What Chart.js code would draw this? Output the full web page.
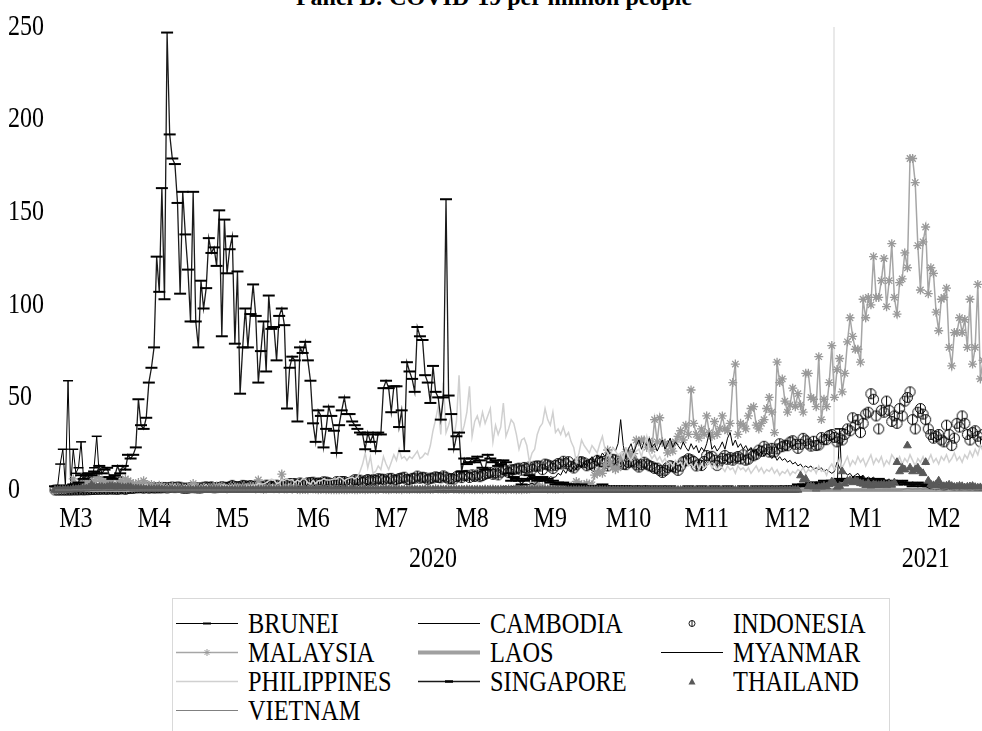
<!DOCTYPE html>
<html>
<head>
<meta charset="utf-8">
<script src="https://cdn.jsdelivr.net/npm/chart.js@4.4.1/dist/chart.umd.min.js"></script>
<style>
  html, body { margin: 0; padding: 0; background: #fff; }
  body { width: 982px; height: 731px; position: relative; overflow: hidden;
         font-family: 'Liberation Serif', 'Times New Roman', serif; color: #000; }
  #title { position: absolute; left: 0; top: -15px; width: 988px; text-align: center;
           font-weight: bold; font-size: 24px; line-height: 24px; }
  #wrap { position: absolute; left: 0; top: 0; width: 982px; height: 580px; overflow: hidden; }
  #legend { position: absolute; left: 172px; top: 598px; width: 718px; height: 150px;
            border: 1px solid #d9d9d9; box-sizing: border-box; }
  .item { position: absolute; height: 29px; display: flex; align-items: center;
          font-size: 29px; line-height: 29px; white-space: nowrap; }
  .item svg { width: 62px; height: 29px; margin-right: 10px; flex: none; }
  .item span { display: inline-block; transform: scaleX(0.84); transform-origin: left center; }
</style>
</head>
<body>
<div id="title">Panel B: COVID-19 per million people</div>
<div id="wrap"><canvas id="chart" width="991" height="580"></canvas></div>
<div id="legend"></div>
<script>
// Daily cases per million, one value per day starting 8 March 2020 (index 0)
const brunei = [
  0,2,14,22,2,59,2,22,9,12, 26,5,9,7,5,12,29,7,5,5, 2,5,2,0,7,2,2,0,2,0,
  2,0,2,2,0,0,2,0,0,0, 0,0,0,0,0,2,0,0,0,0, 0,0,0,0,0,0,0,0,0,0,
  0,0,0,0,0,0,0,0,0,0, 0,0,0,0,0,0,0,0,0,0, 0,0,0,0,0,0,0,0,0,0,
  0,0,0,0,0,0,0,0,0,0, 0,0,0,0,0,0,0,0,0,0, 0,0,0,0,0,0,0,0,0,0,
  0,0,0,0,0,0,0,0,0,0, 0,0,0,0,0,0,0,0,0,0, 0,0,0,0,0,0,0,0,0,0,
  0,0,0,0,0,0,0,0,0,0, 0,0,0,0,0,0,0,0,0,0, 0,0,0,0,0,0,0,0,0,0,
  0,0,0,0,0,0,0,0,0,0, 0,0,0,0,0,0,0,0,0,0, 0,0,0,0,0,0,0,0,0,0,
  0,0,0,0,0,0,0,0,0,0, 0,0,0,0,0,0,0,0,0,0, 0,0,0,0,0,0,0,0,0,0,
  0,0,0,0,0,0,0,0,0,0, 0,0,0,0,0,0,0,0,0,0, 0,0,0,0,0,0,0,0,0,0,
  0,0,0,0,0,0,0,0,0,0, 0,0,0,0,0,0,0,0,0,0, 0,0,0,0,0,0,0,0,0,0,
  0,33,0,0,0,0,0,0,0,0, 0,0,0,0,0,0,0,0,0,0, 0,0,0,0,0,0,0,0,0,0,
  0,0,0,0,0,0,0,0,0,0, 0,0,0,0,0,0,0,0,0,0, 0,0,0,0,0,0,0
];
const cambodia = [
  0,0,0,0,0,0.1,0,0.1,0.2,0.1, 0.1,0.3,0.5,0.2,0.9,0.4,0.4,0.3,0.3,0.4, 0.2,0.1,0.2,0,0.1,0.2,0.2,0.1,0,0.2,
  0.1,0.1,0,0,0,0,0.1,0,0,0, 0,0,0,0,0,0,0,0,0,0, 0,0,0,0,0,0,0,0,0,0,
  0,0,0,0,0,0,0,0,0,0, 0,0,0,0,0,0,0,0,0,0, 0,0,0,0,0,0,0,0,0,0,
  0,0,0,0,0,0,0,0,0,0, 0,0,0,0,0,0,0,0,0,0, 0,0,0,0,0,0,0,0,0,0,
  0,0,0,0,0,0,0,0,0,0, 0,0,0,0,0,0,0,0,0,0, 0,0,0,0,0,0,0,0,0,0,
  0,0,0,0,0,0,0,0,0,0, 0,0,0,0,0,0,0,0,0,0, 0,0,0,0,0,0,0,0,0,0,
  0,0,0,0,0,0,0,0,0,0, 0,0,0,0,0,0,0,0,0,0, 0,0,0,0,0,0,0,0,0,0,
  0,0,0,0,0,0,0,0,0,0, 0,0,0,0,0,0,0,0,0,0, 0,0,0,0,0,0,0,0,0,0,
  0,0,0,0,0,0,0,0,0,0, 0,0,0,0,0,0,0,0,0,0, 0,0,0,0,0,0.1,0,0,0.2,0.1,
  0.2,0,0.1,0,0,0,0,0,0,0, 0,0,0,0,0,0,0,0,0.1,0, 0,0,0,0,0,0,0,0,0,0,
  0,0,0.1,0,0,0,0,0,0,0, 0,0,0,0,0,0,0,0,0,0, 0,0,0,0,0,0,0,0,0,0,
  0,0,0,0,0,0,0,0,0,0, 0,0,0,0,0,0,0,0,0,1.2, 0.8,1.5,2.0,2.4,1.8,2.1,2.6
];
const indonesia = [
  0,0,0,0,0,0,0,0.1,0.1,0.1, 0.2,0.1,0.2,0.2,0.3,0.3,0.4,0.4,0.5,0.5, 0.4,0.6,0.5,0.5,0.4,0.6,0.7,0.4,0.8,0.9,
  0.9,1.2,1.2,1.3,1.0,1.5,1.0,1.3,1.1,1.2, 1.2,1.2,1.4,1.1,1.4,1.6,1.3,1.6,1.5,1.0, 1.0,1.0,1.3,1.3,1.2,1.1,1.1,1.5,1.7,1.4,
  1.7,1.2,1.3,1.4,1.8,1.5,1.4,1.8,2.5,1.8, 1.8,1.8,2.5,2.3,2.0,2.4,1.8,2.3,1.8,1.7, 1.6,2.6,2.5,2.0,1.7,2.6,2.1,2.2,2.8,3.2,
  3.5,3.4,3.5,3.0,3.8,3.4,3.2,3.9,4.0,4.2, 3.5,3.8,3.6,4.4,4.3,3.9,3.4,3.3,4.5,4.5, 4.6,4.6,3.9,3.8,4.7,5.6,5.4,5.3,4.1,5.0,
  5.7,5.1,5.6,5.2,6.1,5.9,5.8,4.5,6.1,6.3, 5.4,5.4,6.2,6.5,6.9,5.7,5.5,6.3,6.4,7.5, 6.4,6.9,6.6,5.6,6.4,6.5,7.1,6.8,6.6,7.6,
  6.9,6.0,6.2,5.9,7.2,7.6,6.7,7.8,7.9,6.8, 8.2,7.3,8.1,7.2,7.8,8.6,9.0,9.5,8.5,9.3, 8.2,9.6,11.1,10.4,9.4,10.9,11.0,11.4,11.8,10.7,
  12.2,11.5,12.4,11.2,12.8,13.0,12.9,11.0,14.0,13.6, 13.0,11.6,13.3,14.3,14.1,15.5,14.2,15.3,12.8,11.9, 13.6,15.2,15.3,14.7,13.1,13.9,14.2,12.8,16.0,15.2,
  15.4,14.4,13.0,15.6,16.6,16.2,15.0,14.6,13.9,13.7, 14.9,15.5,15.1,13.6,12.4,13.7,15.0,14.0,13.1,12.6, 11.7,11.8,10.6,9.5,10.6,12.2,13.1,12.6,12.0,10.6,
  12.9,15.2,15.8,16.9,16.3,15.4,13.0,13.9,13.2,15.4, 18.6,17.5,18.2,16.1,13.2,15.6,17.1,18.6,16.6,17.5, 16.1,17.3,18.1,16.8,19.0,16.1,16.7,19.4,18.5,19.3,
  21.5,20.9,23.6,22.1,20.5,22.5,20.5,22.2,25.0,23.4, 24.2,23.9,25.9,26.6,24.7,22.5,24.7,27.9,26.6,24.9, 23.7,26.3,24.0,24.3,28.3,27.2,27.2,29.4,30.0,28.4,
  26,28,27,30,33,32,39,35,38,31, 36,41,42,52,49,40,33,43,42,48, 43,37,40,36,44,40,48,50,53,38,
  33,42,44,41,38,33,30,28,29,30, 27,26,35,30,24,28,36,34,40,36, 30,27,31,32,29,26,30
];
const malaysia = [
  0.1,0.2,0.3,0.3,0.4,0.8,0.8,6,2,3.5, 4,3,4.5,4,4,5,7,6,5,4, 5,5,4,4.5,4,5,4,6,5,4,
  3.5,3,4,3,5,3,2.5,3,2,1.5, 2.5,2,1.5,1.2,1.5,2,1.3,1.6,1,1.2, 1,1.3,1.8,3.5,2,1,1,1.5,1,1.2,
  1,1.7,2.2,1.1,2.1,1.1,0.5,1.2,1.2,1.6, 1.5,0.8,1.6,1.2,1.1,2,1.9,0.5,5.4,0.7, 0.3,0.5,1.1,0.8,0.7,1.2,0.6,8.6,0.6,0.6,
  1.2,0.4,1.2,0.3,0.2,0.3,0.3,0.1,1,0.6, 0.4,0.2,0.3,0.5,0.2,0.3,0.1,0.2,0.1,0.2, 0.3,0.1,0.2,0.4,0.3,0.2,0.1,0.3,0.4,0.2,
  0.3,0.4,0.5,0.2,0.3,0.8,0.4,0.3,0.2,0.4, 0.6,0.3,0.4,0.2,0.5,0.4,0.3,0.5,0.6,0.4, 0.3,0.5,0.4,0.6,0.3,0.4,0.8,0.5,0.6,0.4,
  0.3,0.5,0.8,0.4,0.6,0.3,0.4,0.2,0.5,0.4, 0.3,0.2,0.4,0.3,0.2,0.5,0.3,0.4,0.6,0.3, 0.2,0.4,0.3,0.2,0.5,0.3,0.4,0.2,0.3,0.2,
  0.4,0.3,0.6,2.8,1.9,3.1,1.5,1.8,0.8,0.5, 0.7,0.6,0.4,0.5,0.8,0.7,1.1,1.3,2.0,2.6, 4.6,3.5,2.6,2.6,3.6,3.2,2.8,8,9,10,
  9,13.5,21.6,15,12,11,12,17.5,17.6,20.6, 20.6,18,19.6,27,26,27,27,23,26.5,22, 38,26,39,26,25,20,25,21,26,29,
  32,27,35,30,54,36,30,28,33,30, 40,31,29,37,30,33,40,33,32,36, 58,68,30,36,35,33,40,44,45,35,
  33,36,38,44,50,42,31,69,58,60, 48,42,46,55,45,52,46,42,63,63, 50,49,45,72,38,49,45,58,78,50,
  65,71,53,63,80,93,83,76,76,69, 103,93,104,100,126,104,104,113,125,99, 113,133,104,95,112,114,128,120,179,179,
  166,132,108,134,142,106,120,117,96,86, 103,104,109,77,67,85,85,93,85,92, 77,103,68,77,111,60,70
];
const laos = [
  0,0,0,0,0,0,0,0,0,0, 0,0,0,0,0,0.1,0,0,0.1,0, 0,0.1,0,0.1,0,0,0.1,0,0,0,
  0,0,0,0,0,0,0,0,0,0, 0,0,0,0,0,0,0,0,0,0, 0,0,0,0,0,0,0,0,0,0,
  0,0,0,0,0,0,0,0,0,0, 0,0,0,0,0,0,0,0,0,0, 0,0,0,0,0,0,0,0,0,0,
  0,0,0,0,0,0,0,0,0,0, 0,0,0,0,0,0,0,0,0,0, 0,0,0,0,0,0,0,0,0,0,
  0,0,0,0,0,0,0,0,0,0, 0,0,0,0,0,0,0,0,0,0, 0,0,0,0,0,0,0,0,0,0,
  0,0,0,0,0,0,0,0,0,0, 0,0,0,0,0,0,0,0,0,0, 0,0,0,0,0,0,0,0,0,0,
  0,0,0,0,0,0,0,0,0,0, 0,0,0,0,0,0,0,0,0,0, 0,0,0,0,0,0,0,0,0,0,
  0,0,0,0,0,0,0,0,0,0, 0,0,0,0,0,0,0,0,0,0, 0,0,0,0,0,0,0,0,0,0,
  0,0,0,0,0,0,0,0,0,0, 0,0,0,0,0,0,0,0,0,0, 0,0,0,0,0,0,0,0,0,0,
  0,0,0,0,0,0,0,0,0,0, 0,0,0,0,0,0,0,0,0,0, 0,0,0,0,0,0,0,0,0,0,
  0,0,0,0,0,0,0,0,0,0, 0,0,0,0,0,0,0,0,0,0, 0,0,0,0,0,0,0,0,0,0,
  0,0,0,0,0,0,0,0,0,0, 0,0,0,0,0,0,0,0,0,0, 0,0,0,0,0,0,0
];
const myanmar = [
  0,0,0,0,0,0,0,0,0,0, 0,0,0,0,0,0,0,0,0,0.1, 0,0,0,0,0,0,0,0,0.1,0,
  0,0.1,0,0,0,0.1,0,0,0,0, 0,0,0,0,0,0,0,0,0,0, 0,0,0,0,0,0,0,0,0,0,
  0,0,0,0,0,0,0,0,0,0, 0,0,0,0,0,0,0,0,0,0, 0,0,0,0,0,0,0,0,0,0,
  0,0,0,0,0,0,0,0,0,0, 0,0,0,0,0,0,0,0,0,0, 0,0,0,0,0,0,0,0,0,0,
  0,0,0,0,0,0,0,0,0,0, 0,0,0,0,0,0,0,0,0,0, 0,0,0,0,0,0,0,0,0,0,
  0,0,0,0,0,0,0,0,0,0, 0,0.1,0.2,0.3,0.2,0.5,0.3,0.4,0.9,0.6, 1.1,1.3,1.9,2.1,1.4,2.1,1.8,2.3,1.9,2.5,
  3,2.6,3.1,3.7,2.8,4.2,5.5,5.6,4.5,5.9, 7.2,6.8,7,9,8,11,9,12,10,13, 11,14,12,15,13,16,18,15,19,17,
  20,18,22,19,23,21,25,38,24,17, 22,25,20,24,27,22,26,24,28,23, 25,21,24,27,22,25,28,23,26,24,
  22,26,23,21,25,22,24,20,23,21, 25,31,22,24,21,23,26,22,28,31, 24,27,23,25,22,24,21,23,20,22,
  19,21,18,20,19,17,19,16,18,16, 17,15,16,14,15,13,14,12,13,12, 13,11,12,11,12,10,11,10,9,10,
  15,12,9,10,8,9,7,8,9,7, 8,6,7,6,7,5,6,5,6,5, 6,4,5,4,5,4,5,4,3,4,
  3,4,3,3,2,1,0.5,0.3,0.2,0.3, 0.2,0.1,0.2,0.3,0.2,0.1,0.2,0.1,0.2,0.3, 0.2,0.1,0.2,0.1,0.2,0.1,0.2
];
const philippines = [
  0,0,0.1,0.1,0.1,0.1,0.2,0.1,0.1,0.2, 0.1,0.2,0.5,0.4,0.7,0.7,0.8,0.7,0.8,0.7, 2.8,3.1,1.1,4.8,2.1,2.4,3.5,3.5,2,1.4,
  1.9,2,1.9,2.6,2.6,3,2.1,2.1,1.8,1.9, 1.7,2.6,1.9,2.4,1.1,1.9,2.6,1.5,1.6,1.8, 2.4,2.1,1.3,2.6,1.5,1.8,1.8,2.1,2.9,1.3,
  1.2,1.6,1.3,1.6,2.6,2.6,2.4,2,2.4,1.9, 1.9,1.5,1.3,1.5,2.4,2.1,2.6,2.4,3.5,3.3, 3.3,4,4.9,5.9,5.4,3.5,3.9,5.5,5.1,6,
  5.3,5.6,4.1,5.4,4.5,6.1,5.9,3.9,3.3,5.2, 3.5,5,5,6,5.5,5.4,5.5,6,6,7, 6.3,5,6,6.5,7,6,7,10,14,20,
  12,18,9,10,13,11,18,14,11,15, 19,16,22,17,18,16,18,17,19,21, 17,18,20,19,24,32,38,45,30,58,
  31,35,40,28,37,62,30,35,42,56, 29,37,40,35,42,36,40,44,26,35, 30,34,47,29,33,38,36,30,22,27,
  28,24,15,20,22,30,34,36,44,38, 35,42,31,33,30,34,29,31,26,23, 15,20,27,24,22,20,24,22,20,25,
  29,22,20,18,23,21,19,20,17,22, 18,16,19,21,22,18,24,29,20,17, 19,16,18,15,17,14,15,13,16,14,
  15,12,16,13,14,12,15,11,14,12, 13,15,12,14,11,13,12,10,13,11, 12,9,13,11,12,10,12,9,11,13,
  10,12,9,11,10,12,9,11,8,10, 9,11,8,10,9,11,10,12,9,11, 10,12,9,13,10,11,8,12,14,11,
  13,17,12,15,18,13,16,14,18,15, 17,13,16,19,14,17,15,18,13,16, 14,19,17,15,18,14,17,15,19,16,
  13,17,15,18,14,16,19,15,17,14, 18,16,19,15,17,20,16,18,15,19, 17,21,18,22,19,24,21
];
const singapore = [
  2,2,1,2,2,2,2,3,3,4, 8,6,8,9,8,10,9,13,9,11, 12,7,6,8,13,9,13,11,19,17,
  19,23,49,35,33,39,58,66,77,126, 107,163,103,247,192,179,176,155,106,161, 138,119,91,161,91,77,113,98,109,136,
  128,131,121,151,83,146,117,130,137,79, 118,52,77,98,77,95,111,94,58,75, 91,64,105,87,88,70,94,98,89,44,
  66,72,70,37,77,74,80,70,59,36, 26,43,40,23,33,45,40,32,20,35, 43,50,41,41,37,35,33,31,30,22,
  31,26,30,21,31,30,55,59,55,42, 56,56,34,43,21,69,64,60,53,88, 83,81,62,58,47,67,53,50,38,50,
  157,51,41,22,29,31,10,17,14,15, 17,15,18,16,12,11,19,17,15,16, 13,14,16,15,9,5,7,6,5,3,
  5,6,8,6,7,5,6,7,5,6, 4,5,3,4,3,4,3,3,2,3, 2,2,3,2,2,1,2,2,1,2,
  3,2,1,2,2,1,2,1,2,2, 1,1,2,1,1,2,1,1,2,1, 1,1,2,1,1,1,2,1,1,1,
  1,1,1,2,1,1,1,1,2,1, 1,1,1,2,1,1,1,1,2,1, 1,1,1,1,2,1,1,1,1,2,
  1,1,1,2,1,1,1,2,1,1, 2,1,2,1,2,3,2,3,2,3, 4,3,4,3,4,5,4,3,5,4,
  5,6,5,6,5,4,6,5,7,6, 5,4,6,5,4,5,6,4,5,4, 3,5,4,3,4,5,3,4,3,2,
  3,4,3,2,3,2,3,2,2,3, 2,2,2,3,2,1,2,2,1,2, 2,1,2,1,2,1,1
];
const thailand = [
  0,0,0,0.1,0.1,0.1,0.1,0.5,0.4,0.5, 0.6,0.9,0.7,1.3,2.7,1.6,1.5,1.6,1.6,1.3, 1.6,2.0,2.0,1.8,1.9,1.5,1.5,1.4,1.5,1.5,
  0.7,0.8,0.7,0.7,0.6,0.4,0.5,0.4,0.4,0.4, 0.5,0.4,0.3,0.2,0.2,0.3,0.2,0.1,0.1,0.1, 0.1,0.1,0.1,0,0.1,0.1,0,0.1,0,0.1,
  0,0.1,0,0,0.1,0,0,0,0.1,0, 0,0,0,0,0,0.1,0,0,0,0, 0,0,0.1,0,0,0,0,0,0,0,
  0,0,0,0,0,0,0.1,0,0,0, 0,0,0,0,0,0,0,0,0,0, 0,0.1,0,0,0,0,0,0,0,0,
  0,0,0,0,0,0,0,0,0,0, 0,0,0,0,0,0,0,0,0,0, 0,0,0,0,0,0,0,0,0,0,
  0,0,0,0,0,0,0,0,0,0, 0,0,0,0,0,0,0,0,0,0, 0,0,0,0,0,0,0,0,0,0,
  0,0,0,0,0,0,0,0,0,0, 0,0,0,0,0,0,0,0,0,0, 0,0,0,0,0,0,0,0,0,0,
  0,0,0,0,0,0,0,0,0,0, 0,0,0,0,0,0,0,0,0,0, 0,0,0,0,0,0,0,0,0,0,
  0,0,0,0,0,0,0,0,0,0, 0,0,0,0,0,0,0,0,0,0, 0,0,0,0,0,0,0,0,0,0,
  0,0,0,0,0,0,0,0,0,0, 0,0,0,0,0,0,7.8,5.5,6,2, 2,1.7,0.7,1.5,1.5,2.3,1.8,3,4.5,3.6,
  1.4,2.1,10,3.4,5,5.2,4.1,5.1,4.4,3.6, 3.3,2.6,3.7,2.3,3,2.7,2.6,2.8,3,2.5, 3.2,2.7,4,15,10,12,11,24,12,10,
  11,12,10,9,15,5,3,2.5,3,5, 2.4,2,2.3,2.8,2.1,1.6,1.8,2.2,2,1.3, 1.7,1.9,2.1,1.5,1.2,1.4,1.1
];
const vietnam = [
  0,0,0,0,0,0,0,0.1,0.1,0.1, 0,0.1,0.1,0.1,0.2,0.1,0.1,0.1,0,0.1, 0.1,0.1,0.1,0,0,0.1,0,0.1,0,0,
  0,0,0,0,0,0,0,0,0,0, 0,0,0,0,0,0,0,0,0,0, 0,0,0,0,0,0,0,0,0,0,
  0,0,0,0,0,0,0,0,0,0, 0,0,0,0,0,0,0,0,0,0, 0,0,0,0,0,0,0,0,0,0,
  0,0,0,0,0,0,0,0,0,0, 0,0,0,0,0,0,0,0,0,0, 0,0,0,0,0,0,0,0,0,0,
  0,0,0,0,0,0,0,0,0,0, 0,0,0,0,0,0,0,0,0,0, 0,0,0,0.1,0.1,0.1,0.2,0.3,0.2,0.4,
  0.3,0.2,0.3,0.4,0.2,0.3,0.1,0.2,0.1,0.2, 0.1,0.1,0,0.1,0,0,0,0,0,0, 0,0,0,0,0,0,0,0,0,0,
  0,0,0,0,0,0,0,0,0,0, 0,0,0,0,0,0,0,0,0,0, 0,0,0,0,0,0,0,0,0,0,
  0,0,0,0,0,0,0,0,0,0, 0,0,0,0,0,0,0,0,0,0, 0,0,0,0,0,0,0,0,0,0,
  0,0,0,0,0,0,0,0,0,0, 0,0,0,0,0,0,0,0,0,0, 0,0,0,0,0,0,0,0,0,0,
  0,0,0,0,0,0,0,0,0,0, 0,0,0,0,0,0,0,0,0,0, 0,0,0,0,0,0,0,0,0,0,
  0,0,0,0,0,0,0,0,0,0, 0,0,0,0,0,0,0,0,0,0, 0,0,0,0,0,0.1,0.5,0.8,0.6,0.4,
  0.6,0.5,0.7,0.4,0.6,0.5,0.3,0.2,0.4,0.3, 0.3,0.4,0.5,0.2,0.1,0.2,0.3,0.1,0.2,0.1, 0.1,0.2,0.1,0.1,0.2,0.1,0.1
];

const seriesNames = ['BRUNEI', 'CAMBODIA', 'INDONESIA', 'MALAYSIA', 'LAOS', 'MYANMAR',
                     'PHILIPPINES', 'SINGAPORE', 'THAILAND', 'VIETNAM'];
const seriesValues = [brunei, cambodia, indonesia, malaysia, laos, myanmar,
                      philippines, singapore, thailand, vietnam];

// axis labels (day offsets from 8 March 2020)
const monthLabels = ['M3', 'M4', 'M5', 'M6', 'M7', 'M8', 'M9', 'M10', 'M11', 'M12', 'M1', 'M2'];
const monthTickDays = [8, 38, 68, 99, 129, 160, 190, 220, 250, 281, 311, 341];
const yearLabels = ['2020', '2021'];
const yearTickDays = [145, 334];
const yearBreakDay = 299; // 1 Jan 2021
const lastDay = 356;

// circle with a vertical bar, used for Indonesia
function circleBar(r) {
  const c = document.createElement('canvas');
  const s = Math.ceil(r * 2 + 3);
  c.width = s; c.height = s;
  const g = c.getContext('2d');
  g.strokeStyle = '#000';
  g.lineWidth = 1;
  g.beginPath();
  g.arc(s / 2, s / 2, r, 0, Math.PI * 2);
  g.moveTo(s / 2, s / 2 - r);
  g.lineTo(s / 2, s / 2 + r);
  g.stroke();
  return c;
}

const styles = {
  BRUNEI:      { borderColor: '#000', borderWidth: 1, pointStyle: 'line', pointRadius: 5,
                 pointBorderColor: '#000', pointBorderWidth: 1.5 },
  CAMBODIA:    { borderColor: '#000', borderWidth: 1, pointRadius: 0 },
  INDONESIA:   { showLine: false, pointStyle: circleBar(5), pointRadius: 5 },
  MALAYSIA:    { borderColor: '#a6a6a6', borderWidth: 1.5, pointStyle: 'star', pointRadius: 4.5,
                 pointBorderColor: '#999', pointBorderWidth: 1.3 },
  LAOS:        { borderColor: '#a0a0a0', borderWidth: 4, pointRadius: 0 },
  MYANMAR:     { borderColor: '#000', borderWidth: 1, pointRadius: 0 },
  PHILIPPINES: { borderColor: '#d0d0d0', borderWidth: 1.5, pointRadius: 0 },
  SINGAPORE:   { borderColor: '#1a1a1a', borderWidth: 1.3, pointStyle: 'line', pointRadius: 6,
                 pointBorderColor: '#000', pointBorderWidth: 2 },
  THAILAND:    { showLine: false, pointStyle: 'triangle', pointRadius: 4.5,
                 pointBackgroundColor: '#595959', pointBorderColor: '#595959', pointBorderWidth: 1 },
  VIETNAM:     { borderColor: '#808080', borderWidth: 1, pointRadius: 0 }
};

const datasets = seriesNames.map((name, k) => Object.assign({
  label: name,
  data: seriesValues[k].map((v, i) => ({ x: i, y: v })),
  order: seriesNames.length - k,   // later series drawn on top
  fill: false,
  tension: 0,
  clip: false,
  xAxisID: 'x',
  yAxisID: 'y'
}, styles[name]));

const font = { family: "'Liberation Serif', 'Times New Roman', serif", size: 30 };

// the source uses a narrow Times face: squeeze axis text horizontally while the scales draw
const narrowAxisText = {
  id: 'narrowAxisText',
  beforeDraw(chart) {
    const ctx = chart.ctx;
    const fill = ctx.fillText;
    ctx.fillText = function (t, x, y) {
      this.save();
      this.scale(0.8, 1);
      fill.call(this, t, x / 0.8, y);
      this.restore();
    };
    chart._plainFill = fill;
  },
  beforeDatasetsDraw(chart) {
    if (chart._plainFill) chart.ctx.fillText = chart._plainFill;
  }
};

new Chart(document.getElementById('chart'), {
  type: 'line',
  data: { datasets },
  plugins: [narrowAxisText],
  options: {
    responsive: false,
    animation: false,
    events: [],
    devicePixelRatio: 1,
    layout: { padding: { left: 8, top: 27, right: 0, bottom: 0 } },
    plugins: { legend: { display: false }, tooltip: { enabled: false } },
    scales: {
      x: {
        type: 'linear', position: 'bottom', weight: 1, min: 0, max: lastDay,
        grid: { display: false, drawTicks: false },
        border: { display: false },
        afterBuildTicks: a => { a.ticks = monthTickDays.map(v => ({ value: v })); },
        afterFit: s => { s.height = 40; },
        ticks: { autoSkip: false, maxRotation: 0, padding: 11, color: '#000', font,
                 callback: (v, i) => monthLabels[i] }
      },
      yr: {
        type: 'linear', position: 'bottom', weight: 2, min: 0, max: lastDay,
        grid: { display: true, drawTicks: false, lineWidth: 2,
                color: c => (c.tick && c.tick.value === yearBreakDay) ? '#e9e9e9' : 'rgba(0,0,0,0)' },
        border: { display: false },
        afterBuildTicks: a => {
          a.ticks = [{ value: yearTickDays[0] }, { value: yearBreakDay }, { value: yearTickDays[1] }];
        },
        afterFit: s => { s.height = 50; },
        ticks: { autoSkip: false, maxRotation: 0, padding: 11, color: '#000', font,
                 callback: v => {
                   const j = yearTickDays.indexOf(v);
                   return j >= 0 ? yearLabels[j] : '';
                 } }
      },
      y: {
        min: 0, max: 250,
        grid: { display: false, drawTicks: false },
        border: { display: false },
        afterFit: s => { s.width = 47; },
        ticks: { stepSize: 50, crossAlign: 'far', padding: 0, color: '#000', font }
      }
    }
  }
});

// legend, laid out in three columns like the original
function sample(name) {
  const st = styles[name];
  const mid = 14.5;
  let svg = '<svg viewBox="0 0 62 29">';
  if (st.showLine !== false) {
    svg += `<line x1="0" y1="${mid}" x2="62" y2="${mid}" stroke="${st.borderColor}" stroke-width="${st.borderWidth}"/>`;
  }
  if (st.pointStyle === 'line') {
    svg += `<line x1="27" y1="${mid}" x2="35" y2="${mid}" stroke="#000" stroke-width="${st.pointBorderWidth + 0.5}"/>`;
  } else if (st.pointStyle === 'star') {
    const r = 3.5;
    svg += `<g stroke="#999" stroke-width="1"><line x1="${31 - r}" y1="${mid}" x2="${31 + r}" y2="${mid}"/>` +
           `<line x1="31" y1="${mid - r}" x2="31" y2="${mid + r}"/>` +
           `<line x1="${31 - r * 0.7}" y1="${mid - r * 0.7}" x2="${31 + r * 0.7}" y2="${mid + r * 0.7}"/>` +
           `<line x1="${31 - r * 0.7}" y1="${mid + r * 0.7}" x2="${31 + r * 0.7}" y2="${mid - r * 0.7}"/></g>`;
  } else if (st.pointStyle === 'triangle') {
    svg += `<polygon points="31,${mid - 3.5} 34.5,${mid + 3} 27.5,${mid + 3}" fill="#595959"/>`;
  } else if (st.pointStyle && st.pointStyle.getContext) {
    svg += `<circle cx="31" cy="${mid}" r="3" fill="none" stroke="#000" stroke-width="0.9"/>` +
           `<line x1="31" y1="${mid - 3}" x2="31" y2="${mid + 3}" stroke="#000" stroke-width="0.9"/>`;
  }
  return svg + '</svg>';
}

const legend = document.getElementById('legend');
const colLeft = [3, 245, 488];
seriesNames.forEach((name, k) => {
  const el = document.createElement('div');
  el.className = 'item';
  el.style.left = colLeft[k % 3] + 'px';
  el.style.top = (10 + Math.floor(k / 3) * 29) + 'px';
  el.innerHTML = sample(name) + '<span>' + name + '</span>';
  legend.appendChild(el);
});
</script>
</body>
</html>
